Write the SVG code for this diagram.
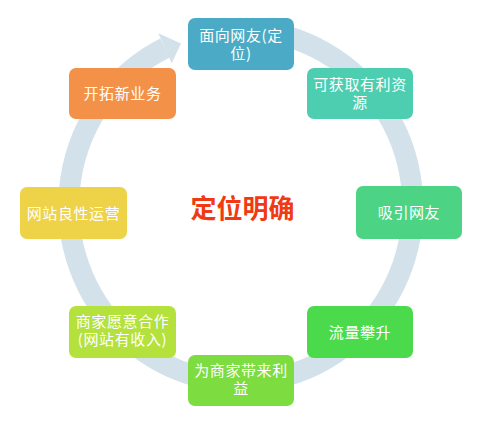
<svg xmlns="http://www.w3.org/2000/svg" width="480" height="427" viewBox="0 0 480 427">
<style>
.n{stroke:none}
.t{font-family:"Noto Sans CJK SC","Noto Sans",sans-serif;font-size:15px;fill:#ffffff;text-anchor:middle;letter-spacing:0.6px}
.c{font-family:"Noto Sans CJK SC",sans-serif;font-size:26px;font-weight:bold;fill:#F03A14;text-anchor:middle}
.ring{fill:none;stroke:#D3E1EB;stroke-width:21}
</style>
<rect width="480" height="427" fill="#ffffff"/>
<g id="connectors">
<path class="ring" d="M 250 30.3 A 172 176 0 1 1 165 48"/>
<polygon points="158.3,33.3 181,43.5 171.7,63.3" fill="#D3E1EB"/>
</g>
<g id="center"><text class="c" x="242.5" y="218">定位明确</text></g>
<g id="n1"><rect class="n" x="188" y="18" width="106" height="52" rx="7" fill="#4BABC6"/><text class="t"><tspan x="241" y="40.5">面向网友(定</tspan><tspan x="241" y="58.5">位)</tspan></text></g>
<g id="n2"><rect class="n" x="307" y="68" width="106" height="51" rx="7" fill="#4DCEB0"/><text class="t"><tspan x="360" y="90">可获取有利资</tspan><tspan x="360" y="107.5">源</tspan></text></g>
<g id="n3"><rect class="n" x="356" y="186" width="106" height="53" rx="7" fill="#4CD484"/><text class="t" x="409" y="218">吸引网友</text></g>
<g id="n4"><rect class="n" x="307" y="306" width="106" height="52" rx="7" fill="#4ADA4C"/><text class="t" x="360" y="337.5">流量攀升</text></g>
<g id="n5"><rect class="n" x="188" y="355" width="106" height="51" rx="7" fill="#7DDC40"/><text class="t"><tspan x="241" y="375.5">为商家带来利</tspan><tspan x="241" y="393.5">益</tspan></text></g>
<g id="n6"><rect class="n" x="69" y="306" width="107" height="52" rx="7" fill="#B4E13C"/><text class="t"><tspan x="122.5" y="326.5">商家愿意合作</tspan><tspan x="122.5" y="344.5">(网站有收入)</tspan></text></g>
<g id="n7"><rect class="n" x="20" y="187" width="107" height="52" rx="7" fill="#EED248"/><text class="t" x="73.5" y="218.5">网站良性运营</text></g>
<g id="n8"><rect class="n" x="69" y="68" width="107" height="51" rx="7" fill="#F39148"/><text class="t" x="122.5" y="98.5">开拓新业务</text></g>
</svg>
